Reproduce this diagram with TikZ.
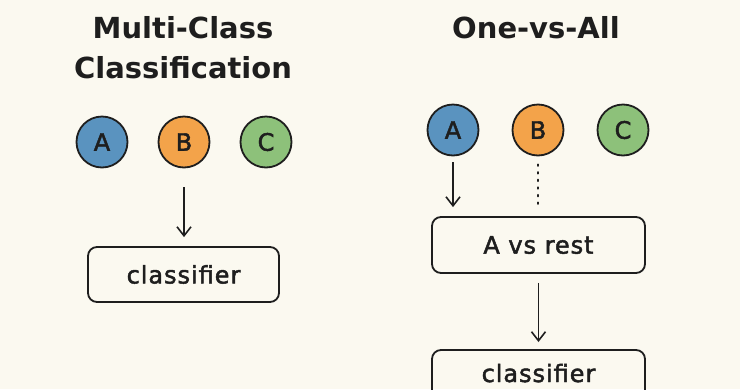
\documentclass[tikz,border=0pt]{standalone}
\usepackage{fontspec}
\setmainfont{DejaVu Sans}
\newfontfamily\lblfont[LetterSpace=4,FakeBold=2]{DejaVu Sans}
\newfontfamily\letfont[FakeBold=2]{DejaVu Sans}
\usetikzlibrary{arrows.meta}
\definecolor{bg}{HTML}{FBF9F0}
\definecolor{ink}{HTML}{1E1E1E}
\definecolor{cA}{HTML}{5A93BF}
\definecolor{cB}{HTML}{F3A34A}
\definecolor{cC}{HTML}{8DC17A}
\tikzset{
  cls/.style={circle, draw=ink, line width=1.8pt, minimum size=51pt, inner sep=0pt, text=ink, font=\letfont\fontsize{24}{24}\selectfont},
  boxline/.style={draw=ink, line width=1.8pt, rounded corners=9pt},
  boxnode/.style={boxline, inner sep=0pt, text=ink, font=\lblfont\fontsize{24}{24}\selectfont},
  boxtext/.style={inner sep=0pt, text=ink, font=\lblfont\fontsize{24}{24}\selectfont},
  ttl/.style={text=ink, font=\fontsize{29}{40}\selectfont\bfseries, align=center, inner sep=0pt},
  arr/.style={draw=ink, line width=1.6pt, -{Straight Barb[length=9pt,width=14pt,line width=1.6pt]}},
  dots/.style={draw=ink, line width=1.8pt, dash pattern=on 1.6pt off 6pt, line cap=round}
}
\begin{document}
\begin{tikzpicture}[x=1pt,y=-1pt]
\fill[bg] (0,0) rectangle (740,389);
\useasboundingbox (0,0) rectangle (740,389);
% left
\node[ttl, anchor=base] (t1a) at (183,38) {Multi-Class};
\node[ttl, anchor=base] (t1b) at (183,78) {Classification};
\node[cls, fill=cA] (A1) at (102,142) {A};
\node[cls, fill=cB] (B1) at (184,142) {B};
\node[cls, fill=cC] (C1) at (266,142) {C};
\node[boxnode, minimum width=191pt, minimum height=55pt] (k1) at (183.5,274.5) {classifier};
\draw[arr, shorten <=19pt, shorten >=9pt] (B1.south) -- (B1.south |- k1.north);
% right
\node[ttl, anchor=base] (t2) at (536,38) {One-vs-All};
\node[cls, fill=cA] (A2) at (453,130) {A};
\node[cls, fill=cB] (B2) at (538,130) {B};
\node[cls, fill=cC] (C2) at (623,130) {C};
\node[boxnode, minimum width=213pt, minimum height=56pt] (v) at (538.5,245) {A vs rest};
\coordinate (k2top) at (538.5,350);
\draw[boxline] (432,350) rectangle (645,412);
\node[boxtext, anchor=base] (k2) at (538.5,382) {classifier};
\draw[arr, shorten <=6pt, shorten >=9pt] (A2.south) -- (A2.south |- v.north);
\draw[dots, shorten <=8pt, shorten >=8pt] (B2.south) -- (B2.south |- v.north);
\draw[arr, shorten <=9pt, shorten >=8pt] (v.south) -- (k2top);
\end{tikzpicture}
\end{document}
